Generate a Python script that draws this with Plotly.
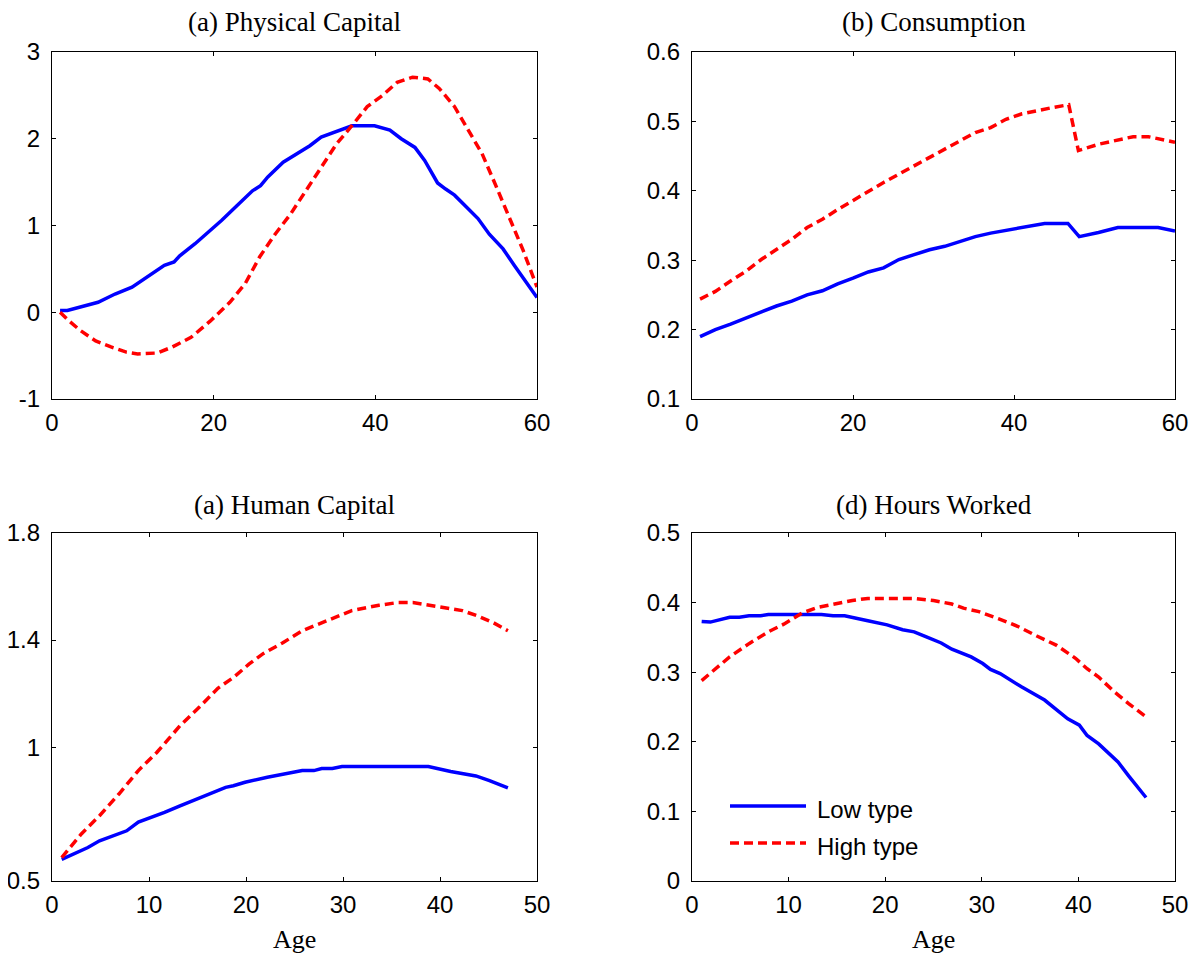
import plotly.graph_objects as go

W, H = 1201, 958
OFF = 8  # page body margin in the browser

# ---------------- data ----------------
# (a) Physical Capital
age_a_low = [1, 1.9, 5.7, 7.8, 9.9, 11.6, 13.9, 15.1, 15.8, 17.7, 19.1, 21.0, 22.9, 24.8, 25.8, 26.7, 28.6,
             30.9, 31.9, 33.3, 35.0, 36.1, 37.1, 39.9, 41.8, 43.2, 44.9, 46.1, 47.7, 48.7, 49.8, 51.3, 52.7,
             54.1, 55.8, 57.2, 58.6, 60]
cap_low = [0.02, 0.02, 0.115, 0.21, 0.29, 0.40, 0.54, 0.58, 0.65, 0.79, 0.90, 1.06, 1.23, 1.40, 1.46, 1.56, 1.73,
           1.87, 1.92, 2.02, 2.08, 2.12, 2.15, 2.15, 2.10, 2.00, 1.90, 1.75, 1.49, 1.42, 1.35, 1.21, 1.08,
           0.90, 0.73, 0.54, 0.35, 0.17]
age_a_high = [1, 2.1, 3.5, 5.4, 7.3, 9.2, 10.6, 13.0, 14.9, 17.2, 19.6, 22.0, 23.9, 25.7, 27.6, 29.5, 31.4,
              33.3, 35.2, 37.1, 39.0, 40.9, 42.7, 44.6, 46.5, 47.9, 49.8, 51.3, 53.2, 55.0, 56.9, 58.3, 60]
cap_high = [0.0, -0.10, -0.21, -0.33, -0.40, -0.46, -0.48, -0.47, -0.40, -0.29, -0.10, 0.115, 0.33, 0.64, 0.90,
            1.13, 1.40, 1.67, 1.94, 2.15, 2.37, 2.50, 2.65, 2.71, 2.69, 2.58, 2.37, 2.13, 1.83, 1.44, 1.02, 0.71, 0.29]

# (b) Consumption
age_b_low = [1, 2.9, 4.8, 6.7, 8.6, 10.5, 12.4, 14.3, 16.2, 18.1, 20, 21.9, 23.8, 25.7, 27.6, 29.5, 31.4,
             33.3, 35.2, 37.1, 39.0, 41.0, 41.9, 43.8, 46.7, 48.1, 50.5, 52.9, 55.2, 57.9, 60]
cons_low = [0.190, 0.200, 0.208, 0.217, 0.226, 0.234, 0.241, 0.250, 0.256, 0.266, 0.274, 0.283, 0.289, 0.301,
            0.308, 0.315, 0.320, 0.327, 0.334, 0.339, 0.343, 0.348, 0.350, 0.353, 0.353, 0.334, 0.340, 0.347,
            0.347, 0.347, 0.342]
age_b_high = [1, 2.9, 4.8, 6.7, 8.6, 10.5, 12.4, 14.3, 16.2, 18.1, 20, 21.9, 23.8, 25.7, 27.6, 29.5, 31.4,
              33.3, 35.2, 37.1, 39.0, 41.0, 42.9, 44.8, 46.8, 48.0, 50.5, 52.9, 54.8, 56.7, 58.1, 60]
cons_high = [0.244, 0.255, 0.270, 0.284, 0.301, 0.315, 0.330, 0.347, 0.359, 0.373, 0.386, 0.400, 0.412, 0.424,
             0.436, 0.449, 0.460, 0.472, 0.484, 0.491, 0.503, 0.511, 0.516, 0.520, 0.524, 0.458, 0.467, 0.473,
             0.478, 0.478, 0.475, 0.470]

# (c) Human Capital
age_c_low = [1, 3.7, 4.9, 7.7, 8.9, 11.6, 13.2, 15.9, 17.9, 18.7, 19.9, 22.2, 24.6, 25.8, 27.0, 27.8, 28.9,
             29.9, 38.8, 41.1, 43.7, 45.1, 47]
hc_low = [0.581, 0.625, 0.650, 0.6875, 0.720, 0.756, 0.781, 0.819, 0.850, 0.856, 0.869, 0.8875, 0.904, 0.9125,
          0.9125, 0.920, 0.920, 0.9275, 0.9275, 0.909, 0.8925, 0.875, 0.8475]
age_c_high = [1, 3.0, 4.9, 6.9, 8.9, 10.8, 12.0, 13.2, 15.2, 17.1, 18.7, 20.3, 21.8, 23.8, 25.8, 27.8, 29.7,
              30.9, 33.7, 35.6, 37.2, 38.8, 40.4, 42.3, 43.9, 45.5, 47]
hc_high = [0.5875, 0.675, 0.744, 0.825, 0.9125, 0.98, 1.03, 1.08, 1.15, 1.22, 1.26, 1.31, 1.35, 1.39, 1.435,
           1.465, 1.49, 1.51, 1.53, 1.54, 1.54, 1.53, 1.52, 1.51, 1.49, 1.465, 1.435]

# (d) Hours Worked
age_d_low = [1, 1.9, 3.9, 4.9, 5.9, 7.1, 7.9, 13.4, 14.6, 15.8, 18.2, 20.2, 21.8, 23.0, 24.2, 25.8, 26.9,
             28.9, 30.1, 30.9, 31.9, 34.1, 36.5, 38.1, 38.9, 40.1, 40.9, 42.1, 44.1, 45.2, 47]
hrs_low = [0.373, 0.372, 0.379, 0.379, 0.381, 0.381, 0.383, 0.383, 0.381, 0.381, 0.374, 0.368, 0.361, 0.358,
           0.351, 0.342, 0.333, 0.322, 0.3125, 0.304, 0.298, 0.279, 0.260, 0.243, 0.233, 0.224, 0.209, 0.197,
           0.171, 0.151, 0.120]
age_d_high = [1, 2.3, 3.9, 5.9, 7.9, 9.5, 11.4, 13.0, 15.0, 16.6, 18.2, 23.0, 25.0, 26.9, 28.1, 29.7, 31.7,
              33.7, 35.7, 37.7, 39.7, 40.9, 42.1, 43.7, 45.2, 47]
hrs_high = [0.288, 0.303, 0.322, 0.341, 0.358, 0.369, 0.385, 0.393, 0.399, 0.403, 0.406, 0.406, 0.403, 0.398,
            0.392, 0.387, 0.377, 0.366, 0.352, 0.339, 0.320, 0.305, 0.293, 0.272, 0.255, 0.236]

titles = ["(a) Physical Capital", "(b) Consumption", "(a) Human Capital", "(d) Hours Worked"]
series_names = ["Low type", "High type"]
xlabel = "Age"

# tick labels
xt_top = [0, 20, 40, 60]
xt_bot = [0, 10, 20, 30, 40, 50]
yt_a = [-1, 0, 1, 2, 3]
yt_a_txt = ["-1", "0", "1", "2", "3"]
yt_b = [0.1, 0.2, 0.3, 0.4, 0.5, 0.6]
yt_b_txt = ["0.1", "0.2", "0.3", "0.4", "0.5", "0.6"]
yt_c = [0.5, 1.0, 1.4, 1.8]
yt_c_txt = ["0.5", "1", "1.4", "1.8"]
yt_d = [0, 0.1, 0.2, 0.3, 0.4, 0.5]
yt_d_txt = ["0", "0.1", "0.2", "0.3", "0.4", "0.5"]

# ---------------- layout helpers ----------------
def px_x(p):
    return (p - OFF) / W

def px_y(p):
    return 1 - (p - OFF) / H

BLUE = "#0000FF"
RED = "#FF0000"
LW = 3.5
DASH = "9px,5px"
SANS = "Liberation Sans, Arial, sans-serif"
SERIF = "Liberation Serif, Times New Roman, serif"
TICKFONT = dict(family=SANS, size=24, color="black")

panels = [
    dict(xa="xaxis", ya="yaxis", xr="x", yr="y", box=(52, 537, 52, 399), ty=22,
         data=[(age_a_low, cap_low), (age_a_high, cap_high)],
         xrange=[0, 60], xt=xt_top, yrange=[-1, 3], yt=yt_a, ytt=yt_a_txt),
    dict(xa="xaxis2", ya="yaxis2", xr="x2", yr="y2", box=(692, 1175, 52, 399), ty=22,
         data=[(age_b_low, cons_low), (age_b_high, cons_high)],
         xrange=[0, 60], xt=xt_top, yrange=[0.1, 0.6], yt=yt_b, ytt=yt_b_txt),
    dict(xa="xaxis3", ya="yaxis3", xr="x3", yr="y3", box=(52, 537, 533, 881), ty=505,
         data=[(age_c_low, hc_low), (age_c_high, hc_high)],
         xrange=[0, 50], xt=xt_bot, yrange=[0.5, 1.8], yt=yt_c, ytt=yt_c_txt),
    dict(xa="xaxis4", ya="yaxis4", xr="x4", yr="y4", box=(692, 1175, 533, 881), ty=505,
         data=[(age_d_low, hrs_low), (age_d_high, hrs_high)],
         xrange=[0, 50], xt=xt_bot, yrange=[0, 0.5], yt=yt_d, ytt=yt_d_txt),
]

fig = go.Figure()
layout = dict(
    width=W, height=H,
    margin=dict(l=0, r=0, t=0, b=0, pad=0, autoexpand=False),
    paper_bgcolor="white", plot_bgcolor="white",
    showlegend=False,
)
annotations = []
shapes = []

for i, p in enumerate(panels):
    x0, x1, y0, y1 = p["box"]
    for j, (xs, ys) in enumerate(p["data"]):
        fig.add_trace(go.Scatter(
            x=xs, y=ys, mode="lines", name=series_names[j],
            xaxis=p["xr"], yaxis=p["yr"],
            line=dict(color=BLUE if j == 0 else RED, width=LW,
                      dash="solid" if j == 0 else DASH),
            showlegend=False,
        ))
    axis_common = dict(
        showline=True, linecolor="black", linewidth=1.3, mirror="ticks",
        ticks="inside", ticklen=4, tickwidth=1.3, tickcolor="black",
        showgrid=False, zeroline=False, tickfont=TICKFONT, automargin=False,
    )
    layout[p["xa"]] = dict(axis_common, domain=[px_x(x0), px_x(x1)], range=p["xrange"],
                           tickvals=p["xt"], ticktext=[str(v) for v in p["xt"]],
                           anchor=p["yr"], ticklabelstandoff=2)
    layout[p["ya"]] = dict(axis_common, domain=[px_y(y1), px_y(y0)], range=p["yrange"],
                           tickvals=p["yt"], ticktext=p["ytt"], anchor=p["xr"],
                           ticklabelstandoff=6)
    annotations.append(dict(
        text=titles[i], x=px_x((x0 + x1) / 2), y=px_y(p["ty"]), xref="paper", yref="paper",
        xanchor="center", yanchor="middle", showarrow=False,
        font=dict(family=SERIF, size=27, color="black"),
    ))
    if i >= 2:
        annotations.append(dict(
            text=xlabel, x=px_x((x0 + x1) / 2), y=px_y(939), xref="paper", yref="paper",
            xanchor="center", yanchor="middle", showarrow=False,
            font=dict(family=SERIF, size=26, color="black"),
        ))

# manual legend inside panel (d)
leg_items = [(806, BLUE, "solid"), (843, RED, DASH)]
for j, (ly, col, dsh) in enumerate(leg_items):
    shapes.append(dict(type="line", xref="paper", yref="paper",
                       x0=px_x(730), x1=px_x(806), y0=px_y(ly), y1=px_y(ly),
                       line=dict(color=col, width=LW, dash=dsh)))
    annotations.append(dict(
        text=series_names[j], x=px_x(815), y=px_y(ly + 3), xref="paper", yref="paper",
        xanchor="left", yanchor="middle", showarrow=False,
        font=dict(family=SANS, size=24, color="black"),
    ))

layout["annotations"] = annotations
layout["shapes"] = shapes
fig.update_layout(**layout)
fig.write_html("out.html")
